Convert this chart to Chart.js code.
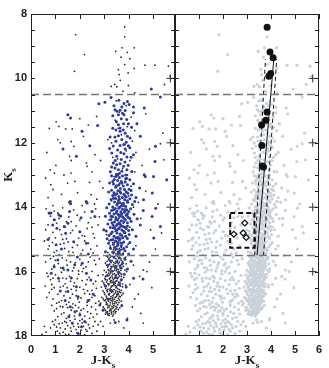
<!DOCTYPE html>
<html>
<head>
<meta charset="utf-8">
<script src="https://cdn.jsdelivr.net/npm/chart.js@4.4.1/dist/chart.umd.min.js"></script>
<style>
  body { margin: 0; background: #fff; }
  #wrap { position: relative; width: 329px; height: 368px; }
  canvas { position: absolute; top: 0; }
  #links { left: 0; }
  #rechts { left: 174px; }
</style>
</head>
<body>
<div id="wrap">
  <canvas id="links" width="176" height="368"></canvas>
  <canvas id="rechts" width="155" height="368"></canvas>
</div>
<script>
// tick labels
const xLabelsLeft = [0, 1, 2, 3, 4, 5];
const xLabelsRight = [1, 2, 3, 4, 5, 6];
const yLabels = [8, 10, 12, 14, 16, 18];
const yTickMarks = [8.5, 9, 9.5, 10, 10.5, 11, 11.5, 12, 12.5, 13, 13.5, 14, 14.5, 15, 15.5, 16, 16.5, 17, 17.5];
const crossMarks = [10, 12, 14, 16];

// magnitude cuts (dashed horizontals)
const magCuts = [10.5, 15.5];

// selected stars (blue), J-Ks / Ks
const blueStars = [
  [4.93,10.33],[5.30,10.58],[1.51,11.13],[1.62,11.23],[2.73,11.46],[2.09,11.64],[2.41,12.09],[1.31,12.19],[5.10,12.11],[1.86,12.42],[4.68,13.05],[5.02,13.05],
  [3.28,10.59],[3.03,10.74],[2.78,10.79],[3.81,10.78],[4.02,10.81],[3.72,10.89],[3.44,10.97],[3.65,10.99],[3.86,11.00],[4.20,10.89],[4.64,10.92],[3.58,11.13],
  [3.81,11.13],[3.35,11.16],[4.20,11.07],[3.79,11.41],[3.58,11.44],[3.65,11.54],[3.99,11.41],[4.34,11.41],[3.65,11.64],[3.86,11.70],[3.24,11.82],[3.44,11.82],
  [3.72,11.90],[4.06,11.85],[4.48,11.80],[3.37,12.10],[3.65,12.08],[3.86,12.19],[3.99,12.09],[3.31,12.32],[3.51,12.42],[3.81,12.34],[3.93,12.44],[4.20,12.37],
  [3.37,12.63],[3.51,12.68],[3.65,12.65],[3.79,12.73],[3.44,12.78],[3.58,12.84],[3.93,12.84],[4.13,12.89],[3.52,11.02],[3.70,11.25],[3.48,11.60],[3.90,11.98],
  [3.55,12.22],[3.70,12.52],[3.25,12.90],[3.62,12.95],[3.85,12.60],[4.05,12.15],
  [3.60,10.68],[3.95,10.72],[3.40,10.85],[3.75,11.08],[3.92,11.28],[3.50,11.35],[4.12,11.52],[3.35,11.55],[3.78,11.60],[3.58,11.78],[3.95,11.80],[3.48,11.95],
  [3.80,12.05],[3.22,12.18],[3.68,12.30],[4.10,12.45],[3.45,12.55],[3.98,12.70],[3.30,12.75],[3.72,12.88],[3.50,12.98],[3.88,13.00],
  [3.30,13.02],[3.48,13.05],[3.62,13.08],[3.75,13.03],[3.92,13.10],[3.41,13.14],[3.55,13.17],[3.70,13.20],[3.86,13.22],[4.05,13.15],[3.22,13.25],[3.38,13.28],
  [3.60,13.31],[3.78,13.34],[3.95,13.30],[4.20,13.27],[3.47,13.38],[3.66,13.42],[3.83,13.45],[3.30,13.47],[3.56,13.49],[4.02,13.44],[4.45,13.40],
  [3.18,13.53],[3.40,13.55],[3.52,13.58],[3.68,13.56],[3.81,13.60],[3.97,13.57],[4.12,13.62],[3.35,13.64],[3.60,13.67],[3.74,13.70],[3.90,13.68],[3.47,13.73],
  [3.28,13.76],[3.58,13.79],[3.84,13.77],[4.05,13.74],[4.30,13.70],[3.42,13.84],[3.65,13.86],[3.78,13.88],[3.96,13.85],[3.20,13.90],[3.52,13.93],[3.70,13.96],
  [3.88,13.98],[4.15,13.92],[3.35,13.99],
  [3.10,14.02],[3.45,14.04],[3.60,14.03],[3.75,14.06],[3.92,14.08],[4.08,14.05],[3.30,14.10],[3.52,14.12],[3.68,14.14],[3.83,14.16],[4.00,14.13],[3.22,14.19],
  [3.40,14.21],[3.58,14.23],[3.72,14.20],[3.90,14.25],[4.22,14.22],[3.05,14.28],[3.34,14.30],[3.48,14.32],[3.63,14.29],[3.80,14.34],[3.98,14.31],[3.27,14.38],
  [3.55,14.40],[3.70,14.42],[3.87,14.39],[4.10,14.44],[3.42,14.46],[3.62,14.48],[4.35,14.36],[4.60,14.10],[4.48,14.55],
  [3.15,14.52],[3.36,14.55],[3.50,14.57],[3.66,14.54],[3.78,14.60],[3.95,14.58],[3.25,14.63],[3.44,14.66],[3.58,14.68],[3.72,14.71],[3.90,14.66],[4.15,14.70],
  [3.08,14.74],[3.33,14.77],[3.52,14.80],[3.65,14.83],[3.85,14.79],[4.02,14.85],[3.20,14.88],[3.40,14.90],[3.57,14.93],[3.76,14.95],[3.95,14.97],[4.30,14.90],
  [3.12,14.98],[2.98,14.70],
  [3.55,13.00],[3.88,13.12],[3.35,13.20],[3.72,13.26],[3.50,13.33],[4.10,13.48],[3.65,13.52],[3.90,13.52],[3.45,13.62],[3.85,13.65],[3.62,13.75],[3.38,13.72],
  [3.95,13.80],[3.55,13.88],[4.25,13.82],[3.80,13.95],[3.62,14.00],[3.38,14.08],[3.85,14.10],[3.50,14.18],[3.95,14.20],[3.65,14.25],[3.28,14.28],[3.75,14.30],
  [4.05,14.35],[3.48,14.38],[3.80,14.45],[3.95,14.48],[3.32,14.48],[3.55,14.52],[3.70,14.58],[3.85,14.62],[3.40,14.62],[3.62,14.64],[4.00,14.72],[3.50,14.72],
  [3.80,14.75],[3.28,14.82],[3.72,14.88],[3.48,14.95],[3.88,14.90],[3.65,14.98],[3.35,15.00],[3.55,15.10],[3.72,15.12],[3.42,15.25],[3.80,15.28],[3.60,15.40],
  [3.28,15.02],[3.46,15.05],[3.62,15.03],[3.80,15.08],[4.05,15.10],[3.18,15.12],[3.38,15.15],[3.55,15.18],[3.70,15.20],[3.92,15.23],[3.25,15.27],[3.50,15.30],
  [3.64,15.33],[3.85,15.35],[4.20,15.30],[3.35,15.40],[3.58,15.44],[3.75,15.47],[3.05,15.38],[4.00,15.45],
  [3.40,15.55],[3.62,15.58],[3.85,15.62],[3.25,15.66],[3.52,15.70],[3.75,15.74],[4.10,15.68],[3.15,15.80],[3.45,15.84],[3.68,15.88],[3.95,15.92],[3.30,15.98],
  [3.58,16.02],[3.82,16.08],[3.12,16.12],[3.48,16.18],[3.70,16.25],[3.38,16.33],[3.62,16.40],[3.05,16.45],[3.90,16.48],[3.28,16.58],[3.55,16.70],[3.15,16.85],
  [3.72,17.05],[2.95,17.20],
  [1.62,13.89],[0.82,14.18],[1.14,14.24],[1.58,14.13],[0.89,14.55],[1.06,14.65],[1.51,14.50],[1.42,14.81],[2.00,14.76],[2.30,13.87],[2.62,14.29],[2.27,15.12],
  [1.75,15.07],[1.03,15.17],[1.10,15.64],[1.31,15.89],[0.83,16.05],[1.13,16.21],[1.51,15.95],[1.79,15.79],[2.10,15.74],[2.27,16.05],[2.45,16.26],[1.86,16.47],
  [1.51,16.62],[1.93,16.78],[2.34,16.90],[1.61,17.09],[2.00,17.35],[1.69,17.60],[2.07,17.71],[1.93,17.92],[4.20,16.21],[4.59,16.23],[3.93,17.50],[3.45,17.58],
  [2.82,17.04],[4.96,14.29],[5.30,14.60],[5.03,14.96],[4.61,13.77],[1.61,13.82],[0.74,14.18],[0.95,14.39],[1.22,14.27],[2.05,14.33],[2.26,13.82],[2.50,14.13],
  [1.36,14.60],[5.08,12.58],[5.56,13.15],[4.64,12.99],[4.97,13.56],[5.11,14.03],
  [1.25,15.30],[0.95,15.85],[1.65,16.20],[1.40,16.90],[1.80,17.25],[2.20,17.55],[1.55,17.40],[2.35,15.45],[1.90,15.55],[0.70,15.00],[2.55,16.70],[1.20,16.60]
];

// all other stars (black), J-Ks / Ks
const blackStars = [
  [3.84,8.40],[3.84,8.71],[1.83,8.64],[2.19,9.26],[1.78,9.78],[3.47,9.16],[3.73,9.05],[3.94,9.19],[4.23,9.05],[3.69,9.34],[4.05,9.39],[3.58,9.73],
  [3.84,9.57],[3.98,9.83],[4.23,9.69],[4.67,9.59],[5.08,9.59],[5.63,9.62],[3.61,9.88],[3.66,10.06],[3.99,10.22],[3.43,10.19],[3.29,10.25],[3.52,10.26],
  [3.77,10.40],[4.25,10.45],[5.47,10.19],[5.70,9.93],
  [3.50,10.70],[3.90,10.85],[3.62,11.05],[4.10,11.20],[3.45,11.30],[3.95,11.50],[4.25,11.62],[3.70,11.75],[4.15,11.95],[3.30,12.00],[3.90,12.25],[4.30,12.30],
  [3.55,12.50],[4.05,12.55],[3.75,12.80],[4.25,12.90],[3.40,13.05],[3.85,13.20],[4.10,13.35],[3.60,13.50],[4.00,13.65],[3.30,13.80],[3.72,13.90],[4.20,14.00],
  [3.50,14.15],[3.95,14.25],[3.20,14.40],[3.78,14.50],[4.05,14.62],[3.45,14.75],[3.65,14.88],[3.90,14.92],[3.10,14.85],[4.40,13.85],[4.55,12.70],[4.35,11.40],
  [4.70,11.10],[3.15,11.90],[2.95,13.40],[4.50,14.35],
  [3.58,11.55],[3.85,12.05],[3.35,12.45],[3.95,13.00],[3.62,13.25],[3.40,13.55],[3.85,14.05],[3.60,14.35],[3.35,14.65],[3.80,14.80],[3.55,14.98],[3.98,15.15],
  [3.88,15.55],[3.92,16.00],
  [3.20,15.04],[3.42,15.08],[3.60,15.12],[3.35,15.16],[3.52,15.22],[3.70,15.25],[3.28,15.30],[3.45,15.34],[3.62,15.37],[3.15,15.41],[3.38,15.44],[3.55,15.48],
  [3.78,15.43],[3.30,15.02],[3.50,15.06],[3.68,15.10],[3.25,15.20],[3.45,15.24],[3.62,15.28],[3.38,15.32],[3.55,15.38],[3.72,15.32],[3.22,15.47],[3.48,15.45],
  [3.35,15.10],[3.58,15.15],[3.42,15.40],[3.65,15.45],
  [3.10,15.52],[3.25,15.55],[3.40,15.57],[3.55,15.53],[3.68,15.60],[3.82,15.58],[3.18,15.63],[3.33,15.66],[3.48,15.68],[3.62,15.71],[3.75,15.69],[3.05,15.74],
  [3.22,15.77],[3.38,15.79],[3.52,15.82],[3.66,15.80],[3.90,15.76],[3.14,15.86],[3.30,15.88],[3.44,15.91],[3.58,15.93],[3.72,15.90],[3.00,15.96],[3.20,15.98],
  [3.36,15.99],[3.50,15.97],[3.85,15.95],
  [3.15,15.55],[3.32,15.52],[3.48,15.60],[3.62,15.56],[3.28,15.72],[3.45,15.75],[3.58,15.76],[3.72,15.78],[3.10,15.80],[3.36,15.84],[3.50,15.88],[3.65,15.86],
  [3.25,15.92],[3.42,15.96],[3.60,15.99],[3.78,15.84],[3.12,15.68],
  [3.20,15.60],[3.55,15.65],[3.70,15.65],[3.40,15.72],[3.28,15.84],[3.62,15.82],[3.46,15.86],[3.16,15.94],[3.52,15.93],[3.68,15.96],[3.32,16.00],
  [3.08,16.02],[3.26,16.04],[3.42,16.06],[3.57,16.03],[3.70,16.08],[2.95,16.10],[3.15,16.12],[3.32,16.14],[3.48,16.16],[3.62,16.13],[3.80,16.18],[3.03,16.21],
  [3.22,16.23],[3.38,16.25],[3.54,16.22],[3.68,16.28],[2.92,16.30],[3.10,16.32],[3.28,16.34],[3.45,16.36],[3.60,16.33],[3.75,16.38],[3.00,16.40],[3.18,16.42],
  [3.35,16.44],[3.50,16.47],[3.66,16.45],[3.88,16.42],[2.88,16.48],
  [3.18,16.05],[3.35,16.08],[3.50,16.10],[3.65,16.05],[3.05,16.15],[3.25,16.18],[3.42,16.20],[3.58,16.18],[3.72,16.24],[3.12,16.26],[3.30,16.28],[3.48,16.30],
  [3.65,16.35],[2.98,16.35],[3.20,16.38],[3.40,16.40],[3.55,16.42],[3.08,16.46],[3.28,16.48],[3.45,16.43],[3.75,16.47],
  [3.22,16.10],[3.45,16.12],[3.58,16.08],[3.70,16.15],[3.34,16.20],[3.05,16.25],[3.52,16.28],[3.25,16.30],[3.62,16.40],[3.38,16.34],[3.15,16.38],[3.48,16.50],
  [3.30,16.45],
  [3.06,16.52],[3.24,16.54],[3.40,16.56],[3.55,16.53],[3.70,16.58],[2.95,16.60],[3.13,16.62],[3.30,16.64],[3.46,16.66],[3.62,16.63],[3.78,16.68],[3.02,16.71],
  [3.20,16.73],[3.36,16.75],[3.52,16.72],[3.66,16.78],[2.90,16.80],[3.10,16.82],[3.27,16.84],[3.42,16.86],[3.58,16.83],[3.00,16.90],[3.18,16.92],[3.34,16.94],
  [3.50,16.97],[3.70,16.92],[2.85,16.98],
  [3.15,16.55],[3.32,16.58],[3.48,16.60],[3.62,16.56],[3.00,16.65],[3.22,16.68],[3.40,16.70],[3.56,16.68],[3.72,16.73],[3.08,16.76],[3.28,16.78],[3.45,16.80],
  [3.62,16.77],[2.96,16.85],[3.15,16.87],[3.35,16.88],[3.52,16.90],[3.08,16.95],[3.25,16.97],[3.42,16.99],[3.60,16.96],
  [3.10,16.58],[3.36,16.62],[3.55,16.62],[3.25,16.60],[3.68,16.65],[3.18,16.70],[3.50,16.78],[3.35,16.82],[3.05,16.88],[3.62,16.88],[3.22,16.85],[3.45,16.93],
  [3.28,16.90],
  [3.08,17.02],[3.24,17.04],[3.40,17.06],[3.55,17.03],[2.96,17.10],[3.15,17.12],[3.32,17.14],[3.48,17.16],[3.64,17.12],[3.05,17.20],[3.22,17.22],[3.38,17.24],
  [3.12,17.29],[3.30,17.31],[3.45,17.28],[3.20,17.36],
  [3.15,17.05],[3.32,17.08],[3.48,17.08],[3.00,17.15],[3.25,17.17],[3.42,17.20],[3.58,17.18],[3.12,17.24],[3.30,17.26],[3.20,17.30],[3.38,17.33],[3.05,17.32],
  [3.12,17.00],[3.35,17.00],[3.52,17.12],[3.20,17.10],[3.38,17.12],[3.08,17.26],[3.28,17.20],[3.48,17.24],[3.35,17.38],[3.15,17.34],
  [0.62,14.05],[0.95,14.12],[1.30,14.02],[1.75,14.08],[2.20,14.15],[2.65,14.05],[0.80,14.28],[1.15,14.35],[1.55,14.30],[2.00,14.40],[2.45,14.33],[0.70,14.55],
  [1.05,14.50],[1.40,14.62],[1.85,14.58],[2.30,14.66],[2.75,14.55],[0.90,14.78],[1.25,14.85],[1.62,14.80],[2.10,14.88],[2.55,14.82],[0.75,14.95],[1.45,14.98],
  [1.95,14.96],
  [0.75,14.20],[1.10,14.18],[1.45,14.45],[1.90,14.25],[2.35,14.48],[2.80,14.30],[0.60,14.70],[1.18,14.70],[1.70,14.72],[2.20,14.90],[2.60,14.95],[1.00,14.95],
  [0.98,14.40],[1.65,14.45],[2.50,14.62],[1.30,15.00],[2.20,15.05],
  [0.55,15.05],[0.88,15.10],[1.20,15.15],[1.52,15.08],[1.90,15.18],[2.35,15.12],[2.70,15.20],[0.70,15.30],[1.05,15.35],[1.38,15.28],[1.72,15.40],[2.12,15.33],
  [2.55,15.42],[0.92,15.52],[1.28,15.58],[1.60,15.50],[2.00,15.62],[2.42,15.55],[2.80,15.60],[0.60,15.70],[1.12,15.75],[1.48,15.80],[1.82,15.72],[2.25,15.85],
  [2.65,15.78],[0.85,15.92],[1.35,15.95],[1.70,15.98],[2.15,15.90],[2.50,15.99],
  [0.75,15.20],[1.35,15.12],[1.70,15.25],[2.05,15.45],[2.45,15.30],[1.15,15.48],[0.80,15.60],[1.45,15.65],[1.75,15.88],[2.35,15.70],[2.10,16.00],[0.95,15.80],
  [0.95,15.40],[1.55,15.38],[2.60,15.65],[1.00,15.65],[1.62,15.70],[2.05,15.80],[1.22,15.88],[1.95,15.98],
  [0.65,16.05],[1.00,16.10],[1.25,16.02],[1.58,16.15],[1.95,16.08],[2.38,16.18],[2.75,16.12],[0.80,16.25],[1.15,16.30],[1.45,16.22],[1.78,16.35],[2.10,16.28],
  [2.55,16.38],[0.58,16.45],[0.95,16.50],[1.32,16.45],[1.65,16.55],[2.00,16.48],[2.32,16.60],[2.68,16.52],[0.75,16.65],[1.10,16.70],[1.42,16.62],[1.85,16.75],
  [2.20,16.68],[2.50,16.80],[0.90,16.85],[1.25,16.90],[1.60,16.82],[1.98,16.95],[2.40,16.88],[2.78,16.92],[1.05,16.98],[1.72,17.00],
  [0.70,16.15],[1.30,16.20],[1.62,16.30],[1.90,16.22],[2.25,16.40],[2.65,16.30],[0.85,16.40],[1.48,16.50],[1.85,16.58],[2.15,16.55],[2.50,16.58],[0.65,16.80],
  [1.35,16.75],[1.70,16.70],[2.05,16.82],[2.30,16.95],[2.62,16.75],[1.15,16.95],
  [0.90,16.20],[1.40,16.38],[2.30,16.25],[1.20,16.48],[1.75,16.45],[2.40,16.70],[0.85,16.55],[1.55,16.95],[1.92,16.85],[2.65,16.98],
  [0.85,17.05],[1.20,17.08],[1.50,17.12],[1.82,17.05],[2.15,17.15],[2.48,17.10],[0.95,17.22],[1.35,17.28],[1.65,17.20],[2.00,17.30],[2.32,17.25],[2.70,17.32],
  [1.10,17.40],[1.45,17.45],[1.78,17.38],[2.10,17.48],[2.55,17.42],[0.88,17.55],[1.28,17.60],[1.60,17.52],[1.92,17.62],[2.25,17.58],[2.85,17.55],[1.05,17.72],
  [1.40,17.78],[1.75,17.70],[2.05,17.82],[2.40,17.75],[2.70,17.85],[0.62,17.88],[1.18,17.92],[1.55,17.95],[1.88,17.90],[2.20,17.96],[2.95,17.70],[0.45,17.95],
  [1.45,17.02],[1.95,17.12],[2.30,17.05],[2.65,17.18],[1.05,17.15],[1.25,17.32],[1.58,17.35],[1.88,17.22],[2.20,17.38],[2.45,17.30],[1.00,17.50],[1.38,17.55],
  [1.70,17.62],[2.00,17.52],[2.35,17.65],[2.62,17.55],[1.20,17.75],[1.50,17.68],[1.85,17.80],[2.15,17.70],[2.50,17.92],[0.80,17.75],[1.32,17.88],[1.65,17.85],
  [2.00,17.98],[2.30,17.85],[2.75,17.65],[0.55,17.70],
  [1.30,17.10],[1.70,17.12],[2.05,17.20],[2.40,17.45],[1.15,17.62],[1.45,17.58],[1.80,17.48],[2.10,17.60],[1.62,17.75],[1.95,17.72],[2.25,17.80],[1.08,17.85],
  [1.42,17.95],[0.95,17.65],[2.55,17.70],
  [4.30,15.20],[4.55,15.50],[4.20,15.80],[4.75,16.00],[4.05,16.40],[4.40,16.70],[4.15,17.10],[3.95,17.45],[4.60,17.60],[3.80,17.75],[5.10,15.30],[4.90,14.70],
  [4.70,13.50],[5.20,13.90],[4.85,12.20],[5.40,11.70],[4.95,16.50],[3.60,17.55],[3.40,17.50],[3.25,17.60],[4.45,16.15],[4.25,16.85],[4.85,15.70],[4.50,17.30],
  [5.35,14.80],[4.60,15.95],
  [1.03,11.35],[1.14,11.49],[1.42,11.57],[2.00,11.25],[1.69,11.57],[1.65,11.96],[1.76,12.11],[1.58,12.42],[1.65,12.55],[0.79,12.84],[0.96,12.94],[2.27,12.63],
  [2.69,11.18],[2.62,12.37],[5.30,12.03],[5.44,12.53],[0.81,13.30],[1.02,12.70],[1.64,12.94],[2.30,12.73],[2.81,13.20],[2.40,13.23],[2.46,13.61],[1.91,13.55],
  [0.70,13.70],[1.25,13.60],[2.10,13.95],[0.90,13.45],[2.70,13.75],[1.50,13.25],[0.65,12.30],[1.20,12.00],[2.15,11.80],[2.50,12.90],[1.35,13.00],[0.90,13.95],
  [1.80,13.20],[2.85,12.55],[1.10,11.90],[2.35,11.45],[0.75,11.55],[2.60,13.90],[1.55,13.85],[0.60,13.10]
];

// right panel: RGB fit stars, fit line, its limits, box and diamonds
const rgbStars = [[3.84,8.41],[3.96,9.18],[4.09,9.36],[3.99,9.85],[3.91,9.93],[3.84,11.04],[3.79,11.30],[3.61,11.45],[3.62,12.08],[3.64,12.72],[3.69,12.75]];
const fitLine = [[3.42,15.5],[4.13,9.3]];
const fitLow = [[3.32,15.5],[3.77,9.4]];
const fitHigh = [[3.69,15.5],[4.24,9.4]];
const boxCorners = [[2.30,14.18],[3.31,14.18],[3.31,15.26],[2.30,15.26],[2.30,14.18]];
const diamondStars = [[2.91,14.49],[2.45,14.84],[2.84,14.80],[2.97,14.94]];

const pts = (arr) => arr.map((p) => ({ x: p[0], y: p[1] }));

Chart.defaults.font.family = "'Liberation Sans', Arial, sans-serif";
Chart.defaults.font.size = 11;
Chart.defaults.font.weight = "bold";
Chart.defaults.color = "#222";

function drawSub(ctx, main, sub, x, y) {
  ctx.font = "bold 13px 'Liberation Serif'";
  const w1 = ctx.measureText(main).width;
  ctx.font = "bold 9px 'Liberation Serif'";
  const w2 = ctx.measureText(sub).width;
  const start = x - (w1 + w2) / 2;
  ctx.font = "bold 13px 'Liberation Serif'";
  ctx.fillText(main, start, y);
  ctx.font = "bold 9px 'Liberation Serif'";
  ctx.fillText(sub, start + w1, y + 4);
}

const rahmen = {
  id: "rahmen",
  afterDatasetsDraw(chart, args, opts) {
    const ctx = chart.ctx;
    const a = chart.chartArea;
    const x = chart.scales.x;
    const y = chart.scales.y;
    ctx.save();
    ctx.strokeStyle = "#222";
    ctx.lineWidth = 1;
    ctx.beginPath();
    opts.xMarks.forEach((v) => {
      const px = Math.round(x.getPixelForValue(v)) + 0.5;
      ctx.moveTo(px, a.top);
      ctx.lineTo(px, a.top + 5);
      ctx.moveTo(px, a.bottom);
      ctx.lineTo(px, a.bottom - 5);
    });
    yTickMarks.forEach((v) => {
      const py = Math.round(y.getPixelForValue(v)) + 0.5;
      ctx.moveTo(a.left, py);
      ctx.lineTo(a.left + 4, py);
      ctx.moveTo(a.right, py);
      ctx.lineTo(a.right - 4, py);
    });
    ctx.stroke();
    ctx.strokeRect(Math.round(a.left) + 0.5, Math.round(a.top) + 0.5, Math.round(a.right - a.left) - 1, Math.round(a.bottom - a.top) - 1);

    ctx.fillStyle = "#222";
    ctx.textBaseline = "alphabetic";
    drawSub(ctx, "J-K", "s", (a.left + a.right) / 2, 364);
    if (opts.yTitle) {
      ctx.save();
      ctx.translate(12, (a.top + a.bottom) / 2);
      ctx.rotate(-Math.PI / 2);
      drawSub(ctx, "K", "s", 0, 0);
      ctx.restore();
    }
    ctx.restore();
  },
};

function hLines(xmax) {
  return magCuts.map((m) => ({
    data: [{ x: 0, y: m }, { x: xmax, y: m }],
    showLine: true,
    borderColor: "#777",
    borderWidth: 1.5,
    borderDash: [8, 4],
    pointRadius: 0,
    order: 0,
  }));
}

function crosses(xpos) {
  return {
    data: crossMarks.map((m) => ({ x: xpos, y: m })),
    pointStyle: "cross",
    pointRadius: 4,
    borderColor: "#333",
    borderWidth: 1,
    order: 0,
  };
}

function baseOptions(xmin, xmax, xTicks, showY, pad) {
  return {
    responsive: false,
    devicePixelRatio: 1,
    animation: false,
    events: [],
    layout: { padding: pad, autoPadding: false },
    plugins: { legend: { display: false }, tooltip: { enabled: false }, rahmen: { xMarks: xTicks, yTitle: showY } },
    scales: {
      x: {
        type: "linear",
        min: xmin,
        max: xmax,
        grid: { display: false, drawTicks: false },
        border: { display: false },
        ticks: { padding: 7, font: { size: 11, weight: "bold" } },
        afterBuildTicks: (s) => { s.ticks = xTicks.map((v) => ({ value: v })); },
        afterFit: (s) => { s.height = 32; },
      },
      y: {
        type: "linear",
        display: showY,
        min: 8,
        max: 18,
        reverse: true,
        grid: { display: false, drawTicks: false },
        border: { display: false },
        ticks: { padding: 4, font: { size: 11, weight: "bold" } },
        afterBuildTicks: (s) => { s.ticks = yLabels.map((v) => ({ value: v })); },
        afterFit: (s) => { s.width = showY ? 31 : 0; },
      },
    },
  };
}

new Chart(document.getElementById("links"), {
  type: "scatter",
  data: {
    datasets: hLines(5.9).concat([
      crosses(5.71),
      { data: pts(blueStars), pointRadius: 1.5, borderWidth: 0, backgroundColor: "#2c3a9c", order: 1 },
      { data: pts(blackStars), pointRadius: 0.9, borderWidth: 0, backgroundColor: "#2a2a2a", order: 2 },
    ]),
  },
  options: baseOptions(0, 5.9, xLabelsLeft, true, { top: 14, right: 1, left: 0, bottom: 0 }),
  plugins: [rahmen],
});

new Chart(document.getElementById("rechts"), {
  type: "scatter",
  data: {
    datasets: hLines(6).concat([
      crosses(5.74),
      { data: pts(fitLine), showLine: true, borderColor: "#111", borderWidth: 1, pointRadius: 0, order: 0 },
      { data: pts(fitLow), showLine: true, borderColor: "#111", borderWidth: 1, borderDash: [4, 3], pointRadius: 0, order: 0 },
      { data: pts(fitHigh), showLine: true, borderColor: "#111", borderWidth: 1, borderDash: [4, 3], pointRadius: 0, order: 0 },
      { data: pts(boxCorners), showLine: true, borderColor: "#111", borderWidth: 2, borderDash: [5, 3], pointRadius: 0, order: 0 },
      { data: pts(rgbStars), pointRadius: 3.5, borderWidth: 0, backgroundColor: "#111", order: 0 },
      { data: pts(diamondStars), pointStyle: "rectRot", pointRadius: 3, borderWidth: 1.2, borderColor: "#111", backgroundColor: "#fff", order: 0 },
      { data: pts(blackStars.concat(blueStars)), pointRadius: 1.6, borderWidth: 0, backgroundColor: "rgb(202,209,216)", order: 3 },
    ]),
  },
  options: baseOptions(0, 6, xLabelsRight, false, { top: 14, right: 6, left: 1, bottom: 0 }),
  plugins: [rahmen],
});
</script>
</body>
</html>
